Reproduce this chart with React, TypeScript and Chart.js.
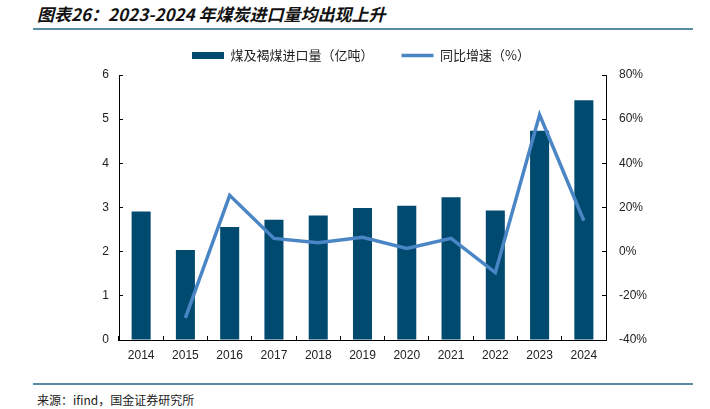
import { useEffect, useRef } from 'react';
import { Chart, registerables } from 'chart.js';

Chart.register(...registerables);

const years = ['2014', '2015', '2016', '2017', '2018', '2019', '2020', '2021', '2022', '2023', '2024'];
// 煤及褐煤进口量（亿吨）
const importVolume = [2.91, 2.04, 2.56, 2.72, 2.82, 2.99, 3.04, 3.23, 2.93, 4.74, 5.43];
// 同比增速（%）
const yoyGrowth = [null, -30.0, 25.5, 6.0, 4.0, 6.5, 1.5, 6.0, -9.5, 62.0, 14.0];

const barColor = '#004a70';
const lineColor = '#4a86c5';
const ruleColor = '#5b8ca7';
const cjkFont = '"Noto Sans CJK SC", "Noto Sans", sans-serif';
const tickFont = '"Liberation Sans", Arial, sans-serif';

// push the plot area down a bit below the legend
const legendSpacer = {
  id: 'legendSpacer',
  beforeInit(chart: any) {
    const legend = chart.legend;
    if (!legend) return;
    const origFit = legend.fit;
    legend.fit = function () {
      origFit.call(this);
      this.height = 54;
    };
  },
};

const CoalImportChart = () => {
  const chartRef = useRef<HTMLCanvasElement>(null);
  const chartInstance = useRef<Chart | null>(null);

  useEffect(() => {
    if (!chartRef.current) return;
    const ctx = chartRef.current.getContext('2d');
    if (!ctx) return;

    if (chartInstance.current) {
      chartInstance.current.destroy();
    }

    const defaultLabels = Chart.defaults.plugins.legend.labels.generateLabels;

    chartInstance.current = new Chart(ctx, {
      type: 'bar',
      data: {
        labels: years,
        datasets: [
          {
            type: 'bar',
            label: '煤及褐煤进口量（亿吨）',
            data: importVolume,
            backgroundColor: barColor,
            borderWidth: 0,
            barPercentage: 0.43,
            categoryPercentage: 1,
            yAxisID: 'y',
            order: 2,
          },
          {
            type: 'line',
            label: '同比增速（%）',
            data: yoyGrowth as any,
            borderColor: lineColor,
            backgroundColor: lineColor,
            borderWidth: 3.5,
            pointRadius: 0,
            tension: 0,
            yAxisID: 'y1',
            order: 1,
          },
        ],
      },
      options: {
        responsive: false,
        animation: false,
        layout: { padding: { left: 12 } },
        plugins: {
          tooltip: { enabled: false },
          legend: {
            position: 'top',
            labels: {
              usePointStyle: true,
              pointStyleWidth: 32,
              boxHeight: 7,
              padding: 28,
              color: '#222',
              font: { family: cjkFont, size: 13 },
              sort: (a: any, b: any) => a.datasetIndex - b.datasetIndex,
              generateLabels(chart: any) {
                const items = defaultLabels(chart);
                return items.map((item: any) =>
                  item.datasetIndex === 0
                    ? { ...item, pointStyle: 'rect', lineWidth: 0, fillStyle: barColor }
                    : { ...item, pointStyle: 'line', lineWidth: 3.5, strokeStyle: lineColor }
                );
              },
            },
          },
        },
        scales: {
          x: {
            grid: {
              offset: true,
              drawOnChartArea: false,
              drawTicks: true,
              tickLength: -4,
              color: '#000',
            },
            border: { color: '#000', width: 1 },
            ticks: {
              padding: 12,
              color: '#222',
              font: { family: tickFont, size: 12 },
            },
            afterFit(scale: any) {
              scale.height = 31;
            },
          },
          y: {
            position: 'left',
            min: 0,
            max: 6,
            grid: {
              drawOnChartArea: false,
              drawTicks: true,
              tickLength: -4,
              color: '#000',
            },
            border: { color: '#000', width: 1 },
            ticks: {
              stepSize: 1,
              padding: 14,
              color: '#222',
              font: { family: tickFont, size: 12 },
            },
            afterFit(scale: any) {
              scale.width = 107;
            },
          },
          y1: {
            position: 'right',
            min: -40,
            max: 80,
            grid: {
              drawOnChartArea: false,
              drawTicks: true,
              tickLength: -4,
              color: '#000',
            },
            border: { color: '#000', width: 1 },
            ticks: {
              stepSize: 20,
              padding: 17,
              color: '#222',
              font: { family: tickFont, size: 12 },
              callback: (v: any) => v + '%',
            },
            afterFit(scale: any) {
              scale.width = 104;
            },
          },
        },
      },
      plugins: [legendSpacer],
    });

    return () => {
      if (chartInstance.current) {
        chartInstance.current.destroy();
        chartInstance.current = null;
      }
    };
  }, []);

  return (
    <div style={{ position: 'absolute', left: 0, top: 0, width: 710, height: 409, background: '#fff' }}>
      <div
        style={{
          position: 'absolute',
          left: 37,
          top: 3,
          fontFamily: cjkFont,
          fontSize: 17,
          fontWeight: 700,
          fontStyle: 'italic',
          color: '#111',
          whiteSpace: 'nowrap',
          lineHeight: '22px',
        }}
      >
        图表26：2023-2024 年煤炭进口量均出现上升
      </div>
      <div style={{ position: 'absolute', left: 33, top: 28, width: 660, height: 2, background: ruleColor }} />
      <canvas ref={chartRef} width={710} height={350} style={{ position: 'absolute', left: 0, top: 21 }} />
      <div style={{ position: 'absolute', left: 33, top: 383, width: 660, height: 2, background: ruleColor }} />
      <div
        style={{
          position: 'absolute',
          left: 37,
          top: 392,
          fontFamily: cjkFont,
          fontSize: 12,
          color: '#222',
          whiteSpace: 'nowrap',
          lineHeight: '16px',
        }}
      >
        来源：ifind，国金证券研究所
      </div>
    </div>
  );
};

export default function App() {
  return <CoalImportChart />;
}
